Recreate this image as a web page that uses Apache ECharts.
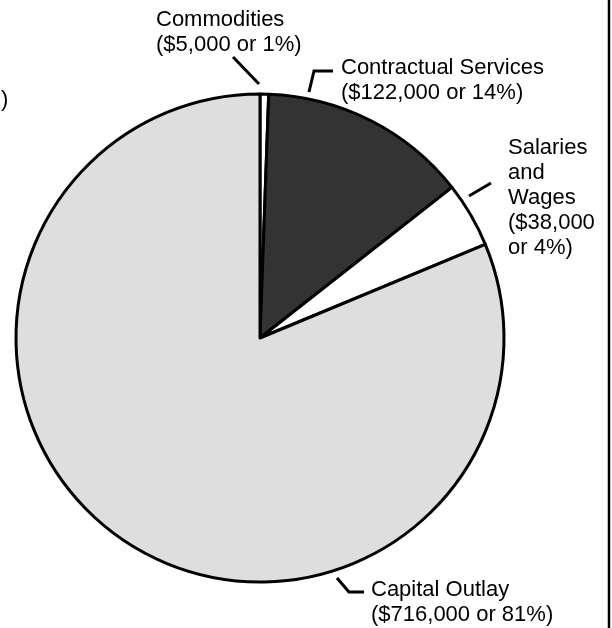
<!DOCTYPE html>
<html lang="en">
<head>
    <meta charset="UTF-8">
    <title>Expenditures pie</title>
    <style>
        html, body { margin: 0; padding: 0; background: #fff; }
        #chart { width: 612px; height: 628px; }
    </style>
</head>
<body>
    <div id="chart"></div>
    <script src="https://cdn.jsdelivr.net/npm/echarts@6/dist/echarts.min.js"></script>
    <script>

        // data
        var categories = ['Commodities', 'Contractual Services', 'Salaries and Wages', 'Capital Outlay'];
        var amounts = [5000, 122000, 38000, 716000];
        var sliceColors = ['#ffffff', '#333333', '#ffffff', '#dedede'];

        // where each label's top-left sits
        var labelPos = [[156, 7], [341, 55], [508, 135], [371, 577]];

        var font = '"Liberation Sans", Arial, sans-serif';

        var chart = echarts.init(document.getElementById('chart'));

        var data = categories.map(function (name, i) {
            return { name: name, value: amounts[i], itemStyle: { color: sliceColors[i] } };
        });

        function money(v) {
            return '$' + v.toLocaleString('en-US');
        }

        function leader(points) {
            return {
                type: 'polyline',
                shape: { points: points },
                style: { stroke: '#000', lineWidth: 3, fill: null }
            };
        }

        var option = {
            animation: false,
            backgroundColor: '#fff',
            series: [{
                type: 'pie',
                center: [260, 338],
                radius: [0, 244],
                startAngle: 90,
                clockwise: true,
                percentPrecision: 0,
                data: data,
                itemStyle: { borderColor: '#000', borderWidth: 3 },
                emphasis: { disabled: true },
                labelLine: { show: false },
                label: {
                    show: true,
                    position: 'outside',
                    overflow: 'none',
                    color: '#000',
                    fontFamily: font,
                    fontSize: 22,
                    lineHeight: 25,
                    align: 'left',
                    formatter: function (p) {
                        if (p.dataIndex === 2) {
                            return p.name.split(' ').join('\n') + '\n(' + money(p.value) + '\nor ' + p.percent + '%)';
                        }
                        return p.name + '\n(' + money(p.value) + ' or ' + p.percent + '%)';
                    }
                },
                labelLayout: function (params) {
                    var pos = labelPos[params.dataIndex];
                    return { x: pos[0], y: pos[1], align: 'left', verticalAlign: 'top' };
                }
            }],
            graphic: [
                leader([[233, 57], [259, 84]]),
                leader([[309, 92], [314, 71], [333, 71]]),
                leader([[469, 196], [491, 183]]),
                leader([[337, 578], [349, 592], [364, 592]]),
                {
                    type: 'line',
                    shape: { x1: 609, y1: 0, x2: 609, y2: 628 },
                    style: { stroke: '#000', lineWidth: 2.5 }
                },
                {
                    type: 'text',
                    left: 1,
                    top: 89,
                    style: { text: ')', font: '22px ' + font, fill: '#000' }
                }
            ]
        };

        chart.setOption(option);

    </script>
</body>
</html>
